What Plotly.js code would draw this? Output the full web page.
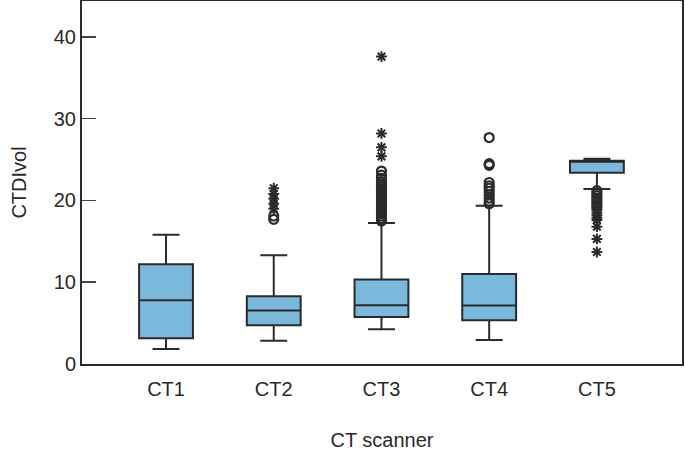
<!DOCTYPE html>
<html>
<head>
<meta charset="utf-8">
<script src="https://cdn.plot.ly/plotly-3.0.1.min.js"></script>
<style>html,body{margin:0;padding:0;background:#fff}#chart{width:685px;height:453px}</style>
</head>
<body>
<div id="chart"></div>
<script>
// Categories
var scanners = ["CT1", "CT2", "CT3", "CT4", "CT5"];
// Box statistics (CTDIvol)
var lowerWhisker = [1.85, 2.85, 4.25, 2.95, 21.4];
var q1Values     = [3.15, 4.75, 5.75, 5.35, 23.4];
var medianValues = [7.8, 6.55, 7.2, 7.15, 24.8];
var q3Values     = [12.2, 8.3, 10.35, 11.0, 24.85];
var upperWhisker = [15.8, 13.3, 17.25, 19.35, 25.1];

// Outliers (circles) and extreme values (stars), per scanner
var ct2Outliers = [17.7, 18.1];
var ct2Extremes = [19.0, 19.6, 20.2, 20.8, 21.5];
var ct3Outliers = [17.5, 17.8, 18.1, 18.4, 18.7, 19.0, 19.3, 19.6, 19.9, 20.2, 20.5, 20.8, 21.1, 21.4, 21.7, 22.0, 22.3, 22.7, 23.1, 23.6];
var ct3Extremes = [25.4, 26.5, 28.2, 37.6];
var ct4Outliers = [19.6, 19.9, 20.3, 20.7, 21.1, 21.5, 21.8, 22.2, 24.3, 24.5, 27.7];
var ct5Outliers = [19.1, 19.4, 19.7, 20.0, 20.3, 20.6, 20.9, 21.2];
var ct5Extremes = [13.7, 15.3, 16.8, 17.6, 17.9, 18.2, 18.5, 18.8];

var ink = "#2b2b2b";
var fillBlue = "#7ab8dc";

function rep(label, arr) { return arr.map(function () { return label; }); }

var circleX = rep("CT2", ct2Outliers).concat(rep("CT3", ct3Outliers), rep("CT4", ct4Outliers), rep("CT5", ct5Outliers));
var circleY = ct2Outliers.concat(ct3Outliers, ct4Outliers, ct5Outliers);
var starX = rep("CT2", ct2Extremes).concat(rep("CT3", ct3Extremes), rep("CT5", ct5Extremes));
var starY = ct2Extremes.concat(ct3Extremes, ct5Extremes);

var traces = [
  {
    type: "box",
    x: scanners,
    q1: q1Values,
    median: medianValues,
    q3: q3Values,
    lowerfence: lowerWhisker,
    upperfence: upperWhisker,
    boxpoints: false,
    width: 0.5,
    whiskerwidth: 0.5,
    fillcolor: fillBlue,
    line: { color: ink, width: 2 },
    hoverinfo: "skip",
    showlegend: false
  },
  {
    type: "scatter",
    mode: "markers",
    x: circleX,
    y: circleY,
    marker: { symbol: "circle-open", size: 9, color: ink, line: { color: ink, width: 2.2 } },
    hoverinfo: "skip",
    showlegend: false
  },
  {
    type: "scatter",
    mode: "markers",
    x: starX,
    y: starY,
    marker: { symbol: "asterisk-open", size: 9, color: ink, line: { color: ink, width: 2 } },
    hoverinfo: "skip",
    showlegend: false
  }
];

var layout = {
  width: 685,
  height: 453,
  margin: { l: 82, r: 3, t: 1, b: 89 },
  paper_bgcolor: "#fff",
  plot_bgcolor: "#fff",
  font: { family: "Liberation Sans, Arial, sans-serif", size: 20, color: "#2a2a2a" },
  showlegend: false,
  xaxis: {
    type: "category",
    categoryorder: "array",
    categoryarray: scanners,
    range: [-0.78, 4.79],
    showline: true,
    mirror: true,
    linecolor: ink,
    linewidth: 2,
    ticks: "",
    showgrid: false,
    zeroline: false,
    tickfont: { size: 20 },
    ticklabelstandoff: 6,
    title: { text: "CT scanner", font: { size: 20 }, standoff: 34 }
  },
  yaxis: {
    range: [0, 44.4],
    tickvals: [0, 10, 20, 30, 40],
    ticktext: ["0", "10", "20", "30", "40"],
    showline: true,
    mirror: true,
    linecolor: ink,
    linewidth: 2,
    ticks: "inside",
    ticklen: 14,
    tickwidth: 1.5,
    tickcolor: "#444",
    showgrid: false,
    zeroline: false,
    tickfont: { size: 20 },
    title: { text: "CTDIvol", font: { size: 20 }, standoff: 22 }
  }
};

Plotly.newPlot("chart", traces, layout, { staticPlot: true, displayModeBar: false });
</script>
</body>
</html>
